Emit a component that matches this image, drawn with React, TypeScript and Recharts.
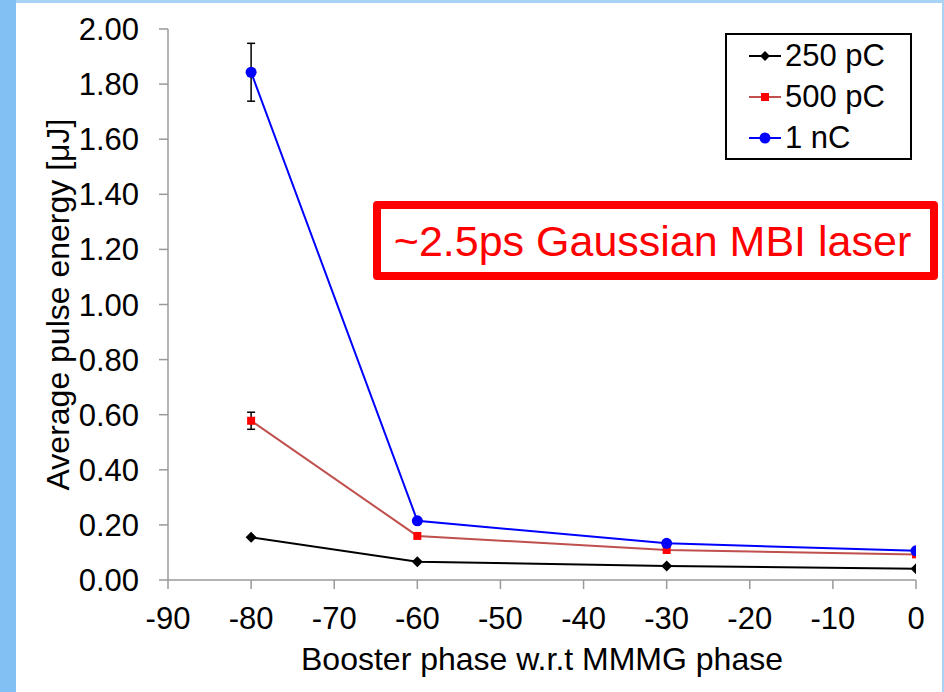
import React from 'react';
import { LineChart, Line, XAxis, YAxis, ErrorBar, Legend, Label } from 'recharts';

const phases = [-80, -60, -30, 0];
const energy250pC = [0.155, 0.066, 0.051, 0.041];
const energy500pC = [0.578, 0.16, 0.109, 0.093];
const energy1nC = [1.843, 0.215, 0.133, 0.106];
const err500pC: (number | null)[] = [0.031, null, null, null];
const err1nC: (number | null)[] = [0.105, null, null, null];
const seriesNames = ['250 pC', '500 pC', '1 nC'];
const xTicks = [-90, -80, -70, -60, -50, -40, -30, -20, -10, 0];
const yTicks = [0, 0.2, 0.4, 0.6, 0.8, 1.0, 1.2, 1.4, 1.6, 1.8, 2.0];
const annotationText = '~2.5ps Gaussian MBI laser';
const xTitle = 'Booster phase w.r.t MMMG phase';
const yTitle = 'Average pulse energy [μJ]';

const FONT = "'Liberation Sans', Arial, sans-serif";

const data = phases.map((p, i) => ({
  phase: p,
  s250: energy250pC[i],
  s500: energy500pC[i],
  s1n: energy1nC[i],
  e500: err500pC[i] == null ? undefined : err500pC[i],
  e1n: err1nC[i] == null ? undefined : err1nC[i],
}));

const diamondPath = (cx: number, cy: number, r: number) =>
  `M${cx},${cy - r}L${cx + r},${cy}L${cx},${cy + r}L${cx - r},${cy}Z`;

const DiamondDot = (props: any) => {
  const { cx, cy, index } = props;
  if (cx == null || cy == null) return <g key={`dd-${index}`} />;
  return <path key={`dd-${index}`} d={diamondPath(cx, cy, 5.5)} fill="#000" />;
};
const SquareDot = (props: any) => {
  const { cx, cy, index } = props;
  if (cx == null || cy == null) return <g key={`sd-${index}`} />;
  return <rect key={`sd-${index}`} x={cx - 4} y={cy - 4} width={8} height={8} fill="#FF0000" />;
};
const CircleDot = (props: any) => {
  const { cx, cy, index } = props;
  if (cx == null || cy == null) return <g key={`cd-${index}`} />;
  return <circle key={`cd-${index}`} cx={cx} cy={cy} r={5.5} fill="#0000FF" />;
};

const legendIcons = [
  { line: '#000000', marker: (x: number, y: number) => <path d={diamondPath(x, y, 5)} fill="#000" /> },
  { line: '#C0504D', marker: (x: number, y: number) => <rect x={x - 4} y={y - 4} width={8} height={8} fill="#FF0000" /> },
  { line: '#0000FF', marker: (x: number, y: number) => <circle cx={x} cy={y} r={5.5} fill="#0000FF" /> },
];

const LegendBox = () => (
  <div
    style={{
      border: '2px solid #000',
      background: '#fff',
      width: 187,
      height: 127,
      boxSizing: 'border-box',
      fontFamily: FONT,
      fontSize: 31,
      color: '#000',
    }}
  >
    {seriesNames.map((name, i) => (
      <div key={name} style={{ height: 41, display: 'flex', alignItems: 'center', paddingLeft: 22 }}>
        <svg width={36} height={20} style={{ display: 'block' }}>
          <line x1={0} y1={10} x2={32} y2={10} stroke={legendIcons[i].line} strokeWidth={2} />
          {legendIcons[i].marker(16, 10)}
        </svg>
        <span style={{ lineHeight: '41px', whiteSpace: 'nowrap' }}>{name}</span>
      </div>
    ))}
  </div>
);

export default function App() {
  return (
    <div
      style={{
        position: 'fixed',
        left: 0,
        top: 0,
        width: 944,
        height: 692,
        background: '#FFFFFF',
        overflow: 'hidden',
      }}
    >
      <div style={{ position: 'absolute', left: 0, top: 0, width: 944, height: 3, background: '#A8D3F7' }} />
      <div style={{ position: 'absolute', left: 0, top: 0, width: 16, height: 692, background: '#82C0F3' }} />
      <div style={{ position: 'absolute', left: 942, top: 0, width: 2, height: 692, background: '#A8D3F7' }} />
      <div style={{ position: 'absolute', left: 0, top: 0 }}>
        <LineChart
          width={944}
          height={692}
          data={data}
          margin={{ top: 29, right: 28, bottom: 0, left: 0 }}
          style={{ fontFamily: FONT }}
        >
          <XAxis
            dataKey="phase"
            type="number"
            domain={[-90, 0]}
            ticks={xTicks}
            interval={0}
            height={112}
            tickSize={9}
            tickMargin={18}
            stroke="#9A9A9A"
            strokeWidth={1.5}
            tick={{ fill: '#000', fontSize: 31, fontFamily: FONT }}
            allowDataOverflow
          >
            <Label
              value={xTitle}
              position="insideBottom"
              offset={22}
              style={{ fill: '#000', fontSize: 32, fontFamily: FONT }}
            />
          </XAxis>
          <YAxis
            type="number"
            domain={[0, 2]}
            ticks={yTicks}
            interval={0}
            width={168}
            tickSize={9}
            tickMargin={20}
            stroke="#9A9A9A"
            strokeWidth={1.5}
            tickFormatter={(v: number) => v.toFixed(2)}
            tick={{ fill: '#000', fontSize: 31, fontFamily: FONT }}
            allowDataOverflow
          >
            <Label
              value={yTitle}
              angle={-90}
              position="insideLeft"
              offset={58}
              style={{ fill: '#000', fontSize: 32, fontFamily: FONT, textAnchor: 'middle' }}
            />
          </YAxis>
          <Legend
            layout="vertical"
            verticalAlign="middle"
            align="center"
            wrapperStyle={{ position: 'absolute', left: 725, top: 33, width: 187, height: 127 }}
            content={() => <LegendBox />}
          />
          <Line
            name={seriesNames[0]}
            dataKey="s250"
            stroke="#000000"
            strokeWidth={2}
            dot={DiamondDot}
            activeDot={false}
            isAnimationActive={false}
          />
          <Line
            name={seriesNames[1]}
            dataKey="s500"
            stroke="#C0504D"
            strokeWidth={2}
            dot={SquareDot}
            activeDot={false}
            isAnimationActive={false}
          >
            <ErrorBar dataKey="e500" direction="y" width={4} stroke="#000" strokeWidth={1.5} isAnimationActive={false} />
          </Line>
          <Line
            name={seriesNames[2]}
            dataKey="s1n"
            stroke="#0000FF"
            strokeWidth={2}
            dot={CircleDot}
            activeDot={false}
            isAnimationActive={false}
          >
            <ErrorBar dataKey="e1n" direction="y" width={4} stroke="#000" strokeWidth={1.5} isAnimationActive={false} />
          </Line>
        </LineChart>
      </div>
      <div
        style={{
          position: 'absolute',
          left: 373,
          top: 201,
          width: 565,
          height: 79,
          border: '8px solid #FF0000',
          borderRadius: 4,
          boxSizing: 'border-box',
          display: 'flex',
          alignItems: 'center',
          justifyContent: 'center',
          fontFamily: FONT,
          fontSize: 43,
          color: '#FF0000',
          whiteSpace: 'nowrap',
          paddingTop: 2,
          paddingRight: 6,
        }}
      >
        {annotationText}
      </div>
    </div>
  );
}
